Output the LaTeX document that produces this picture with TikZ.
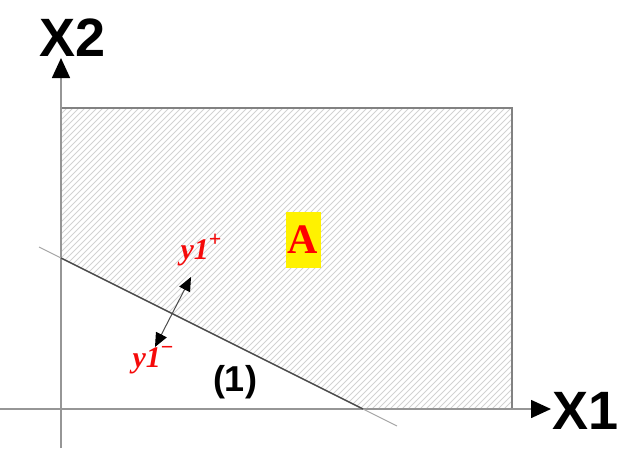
\documentclass[tikz,border=0pt]{standalone}
\usepackage{fontspec}
\setsansfont{Liberation Sans}
\newfontfamily\lserif{Liberation Serif}
\usetikzlibrary{arrows.meta}
\definecolor{hatchgray}{RGB}{210,210,210}
\definecolor{edgegray}{RGB}{130,130,130}
\definecolor{axisgray}{RGB}{150,150,150}
\definecolor{labelred}{RGB}{245,10,10}
\newcommand{\ysup}[1]{\raisebox{0.42em}{\upshape\fontsize{11}{11}\selectfont #1}}

\begin{document}
\begin{tikzpicture}[
  x=0.5pt, y=-0.5pt,
  axis/.style={draw=axisgray, line width=0.8pt,
               -{Triangle[length=10pt, width=9pt, black]}},
  axislbl/.style={font=\sffamily\bfseries\fontsize{27}{27}\selectfont},
  hatch/.style={draw=hatchgray, line width=0.5pt},
  border/.style={draw=edgegray, line width=0.6pt},
  cstline/.style={draw=black!70, line width=0.7pt},
  cstfaint/.style={draw=black!35, line width=0.5pt},
  dirarrow/.style={draw=black!70, line width=0.5pt,
                   {Triangle[length=7pt, width=6pt, black]}-{Triangle[length=7pt, width=6pt, black]}},
  ylbl/.style={text=labelred, font=\lserif\bfseries\itshape\fontsize{15}{15}\selectfont},
  regionlbl/.style={fill=yellow, text=red, inner sep=0pt,
                    minimum width=17.5pt, minimum height=28pt,
                    font=\lserif\bfseries\fontsize{21}{21}\selectfont},
  cstlbl/.style={font=\sffamily\bfseries\fontsize{18}{18}\selectfont}
]
\useasboundingbox (0,0) rectangle (622,450);

% feasible region corners
\coordinate (tl) at (61,108);
\coordinate (tr) at (512,108);
\coordinate (br) at (512,409);
\coordinate (cx) at (363,409);
\coordinate (cy) at (61,258);

% hatching
\begin{scope}
  \clip (tl) -- (tr) -- (br) -- (cx) -- (cy) -- cycle;
  \foreach \c in {-240,-234,...,520}
    \draw[hatch] (\c,409) -- ++(301,-301);
\end{scope}
\draw[border] (tl) -- (tr) -- (br);

% axes
\coordinate (xstart) at (0,409);
\coordinate (xend) at (551,409);
\coordinate (ystart) at (61,448);
\coordinate (yend) at (61,58);
\draw[axis] (xstart) -- (xend);
\draw[axis] (ystart) -- (yend);
\node[axislbl] (x1lbl) at (586,411) {X1};
\node[axislbl] (x2lbl) at (73,38) {X2};

% constraint (1)
\coordinate (lstart) at (39,247);
\coordinate (lend) at (397,426);
\draw[cstfaint] (lstart) -- (lend);
\draw[cstline] (cy) -- (cx);
\node[cstlbl] (c1) at (235,382) {(1)};

% direction of y1
\coordinate (ylo) at (155,347);
\coordinate (yhi) at (191,277);
\draw[dirarrow] (ylo) -- (yhi);
\node[ylbl] (yplus) at (201,250) {y1\ysup{+}};
\node[ylbl] (yminus) at (153,360) {y1\ysup{\textminus}};

% region label
\node[regionlbl] (A) at (303,240) {A};
\end{tikzpicture}
\end{document}
